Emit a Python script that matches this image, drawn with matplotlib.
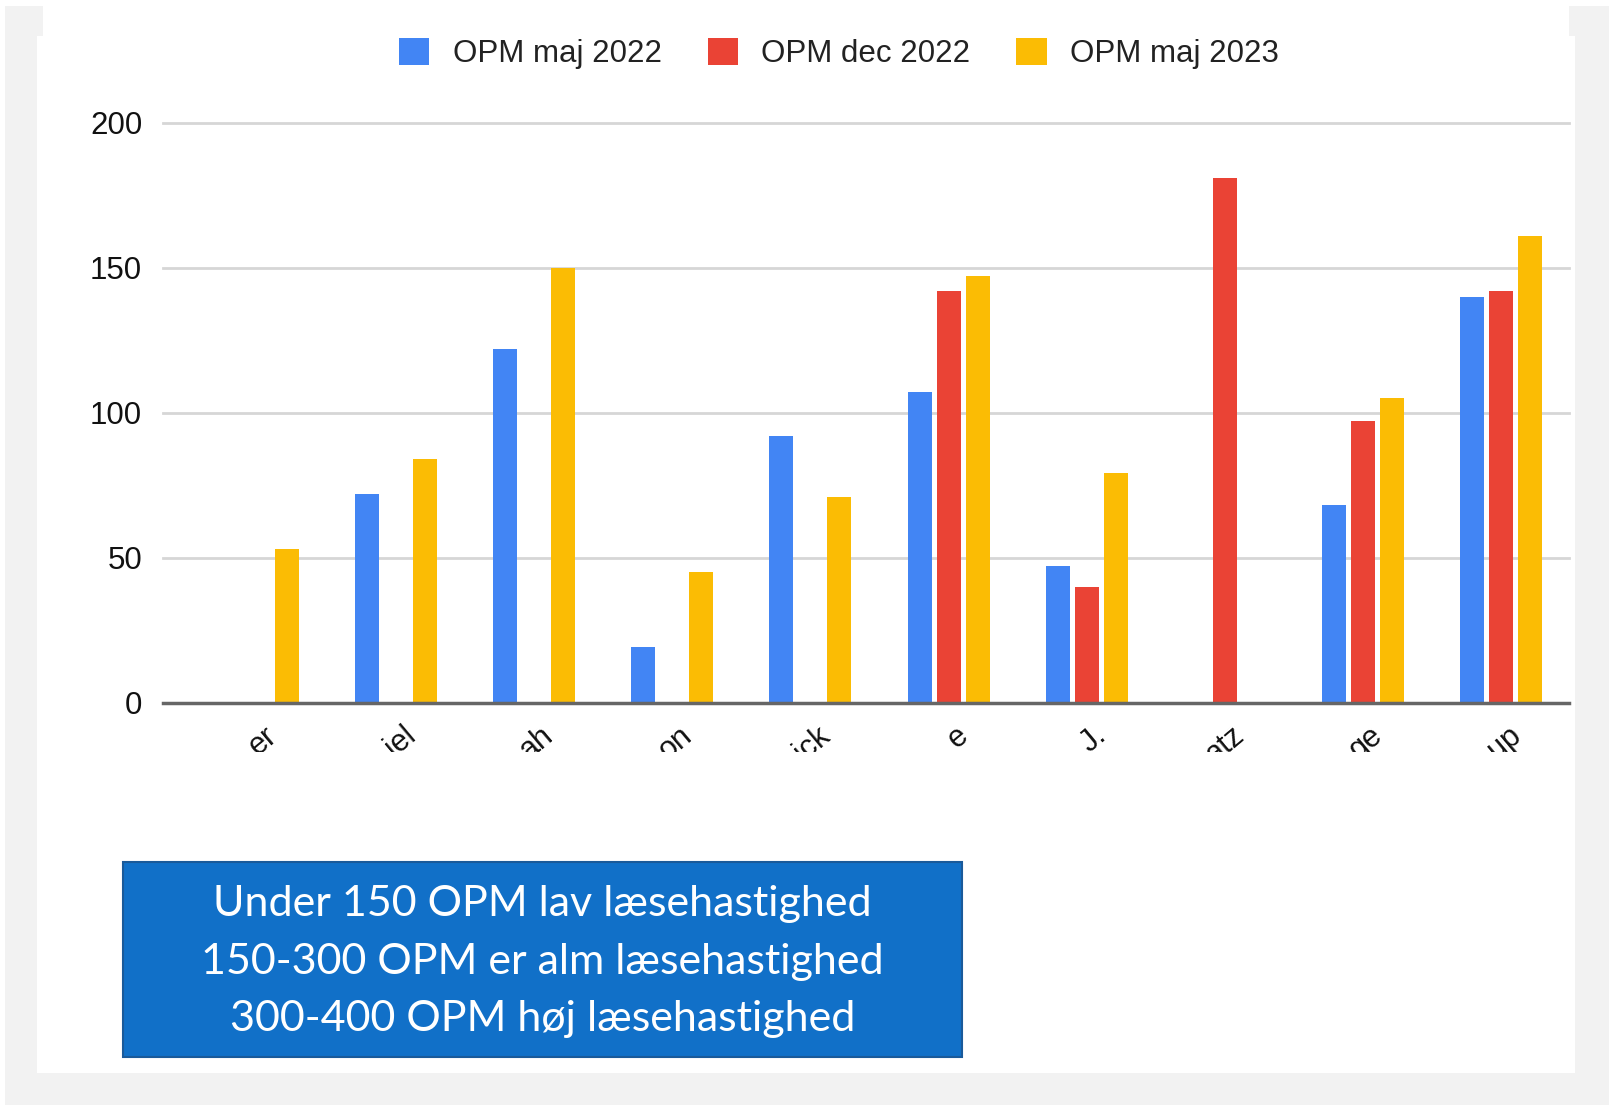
import numpy as np
import matplotlib
import matplotlib.pyplot as plt
from matplotlib.patches import Rectangle, Patch
from matplotlib.transforms import Bbox, blended_transform_factory

matplotlib.use('Agg')

W, H = 1614, 1109

# data (names are cut off in the original)
names = ["er", "iel", "ah", "on", "ick", "e", "J.", "atz", "ge", "up"]
series = ["OPM maj 2022", "OPM dec 2022", "OPM maj 2023"]
maj_2022 = [0, 72, 122, 19, 92, 107, 47, 0, 68, 140]
dec_2022 = [0, 0, 0, 0, 0, 142, 40, 181, 97, 142]
maj_2023 = [53, 84, 150, 45, 71, 147, 79, 0, 105, 161]
colors = ["#4285F4", "#EA4335", "#FBBC04"]
y_ticks = [0, 50, 100, 150, 200]

box_lines = ["Under 150 OPM lav læsehastighed",
             "150-300 OPM er alm læsehastighed",
             "300-400 OPM høj læsehastighed"]


def fx(x):
    return x / W


def fy(y):
    return 1 - y / H


def px_rect(x0, y0, x1, y1, **kw):
    return Rectangle((fx(x0), fy(y1)), fx(x1) - fx(x0), fy(y0) - fy(y1),
                     transform=fig.transFigure, **kw)


plt.rcParams['font.family'] = ['Liberation Sans', 'DejaVu Sans']

fig = plt.figure(figsize=(W / 100, H / 100), dpi=100, facecolor="white")

# grey slide frame
fig.patches.append(px_rect(5, 6, 1609, 1105, facecolor="#f2f2f2", edgecolor="none", zorder=-3))
fig.patches.append(px_rect(37, 36, 1575, 1073, facecolor="white", edgecolor="none", zorder=-2))
fig.patches.append(px_rect(43, 6, 1569, 36, facecolor="white", edgecolor="none", zorder=-2))

ax = fig.add_axes([fx(163), fy(702.5), fx(1569) - fx(163), fy(122.7) - fy(702.5)])
ax.set_zorder(1)
ax.set_facecolor("none")

x = np.arange(len(names))
width = 24 / 138.2
step = 29 / 138.2
for i, (vals, col, lab) in enumerate(zip([maj_2022, dec_2022, maj_2023], colors, series)):
    ax.bar(x + (i - 1) * step, vals, width=width, color=col, label=lab, zorder=3)

ax.set_xlim((163 - 257.5) / 138.2, (1569 - 257.5) / 138.2)
ax.set_ylim(0, 200)
ax.set_yticks(y_ticks)
ax.tick_params(axis="y", length=0, pad=15, labelsize=22.5, labelcolor="#111111")
ax.set_xticks([])
for s in ax.spines.values():
    s.set_visible(False)
ax.yaxis.grid(True, color="#d6d6d6", linewidth=2)
for gl in ax.get_ygridlines():
    gl.set_clip_on(False)
ax.set_axisbelow(True)
ax.axhline(0, color="#666666", linewidth=2.5, zorder=4, clip_on=False)

# rotated category labels, clipped at the bottom like in the screenshot
trans = blended_transform_factory(ax.transData, fig.transFigure)
clip = Bbox([[0, H - 752], [W, H]])
for xi, name in zip(x, names):
    t = ax.text(xi + 16 / 138.2, fy(732), name, transform=trans, rotation=40,
                rotation_mode="anchor", ha="right", va="center",
                fontsize=22, color="#111111", clip_on=True)
    t.set_clip_box(clip)

handles = [Patch(facecolor=c, edgecolor="none") for c in colors]
fig.legend(handles, series, loc="center", bbox_to_anchor=(fx(839), fy(53.5)),
           ncol=3, frameon=False, fontsize=22.5, handlelength=0.97, handleheight=0.97,
           handletextpad=0.75, columnspacing=1.47, labelcolor="#222222")

# info box
fig.patches.append(px_rect(123, 862, 962, 1057, facecolor="#1170C8", edgecolor="#1a5a9a",
                           linewidth=1.5, zorder=2))
for j, line in enumerate(box_lines):
    fig.text(fx(542.5), fy(904 + j * 57.7), line, ha="center", va="center",
             color="white", fontsize=31, family=["Lato", "DejaVu Sans"], zorder=3)

fig.savefig("out.png", dpi=100, facecolor=fig.get_facecolor())
